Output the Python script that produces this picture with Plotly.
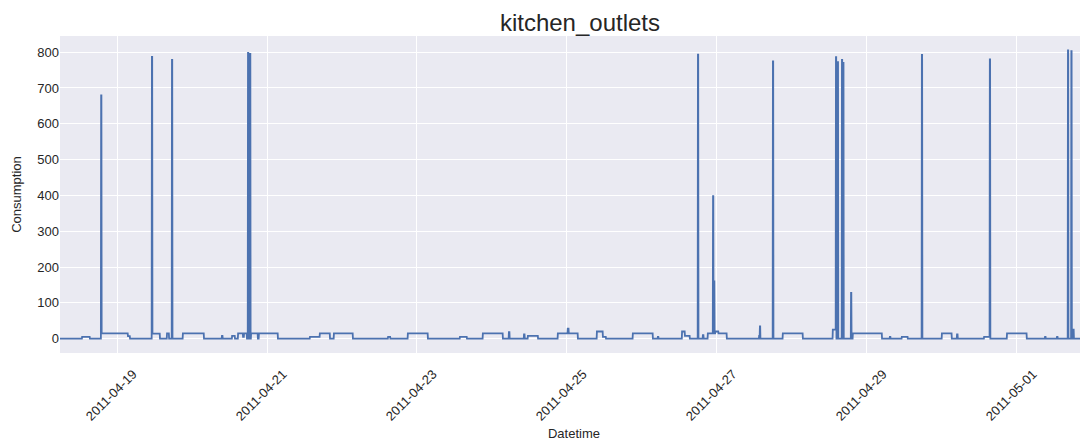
import numpy as np
import pandas as pd
import plotly.graph_objects as go

# ---- data ----
range_start = "2011-04-18 05:45"
range_end = "2011-05-01 22:45"

# plateau / low-level segments (baseline is 0 elsewhere)
seg_start = [
    "2011-04-18 12:50", "2011-04-18 18:55", "2011-04-19 03:30", "2011-04-19 11:10",
    "2011-04-19 16:00", "2011-04-19 21:05", "2011-04-20 09:35", "2011-04-20 12:50",
    "2011-04-20 14:45", "2011-04-20 16:20", "2011-04-20 16:40", "2011-04-20 18:55",
    "2011-04-20 21:25", "2011-04-21 13:45", "2011-04-21 16:55", "2011-04-21 21:25",
    "2011-04-22 14:45", "2011-04-22 21:05", "2011-04-23 13:45", "2011-04-23 21:05",
    "2011-04-24 05:25", "2011-04-24 10:15", "2011-04-24 11:30", "2011-04-24 21:05",
    "2011-04-25 00:15", "2011-04-25 00:35", "2011-04-25 09:35", "2011-04-25 11:30",
    "2011-04-25 21:05", "2011-04-26 05:05", "2011-04-26 12:50", "2011-04-26 13:45",
    "2011-04-26 19:30", "2011-04-26 21:05", "2011-04-26 23:30", "2011-04-27 00:30",
    "2011-04-27 13:30", "2011-04-27 21:05", "2011-04-28 13:05", "2011-04-28 19:30",
    "2011-04-29 07:20", "2011-04-29 11:10", "2011-04-30 00:00", "2011-04-30 04:50",
    "2011-04-30 13:30", "2011-04-30 20:50", "2011-05-01 09:00", "2011-05-01 12:50",
    "2011-05-01 17:55", "2011-05-01 20:50",
]
seg_end = [
    "2011-04-18 15:20", "2011-04-19 03:30", "2011-04-19 04:10", "2011-04-19 13:45",
    "2011-04-19 16:40", "2011-04-20 03:50", "2011-04-20 09:50", "2011-04-20 13:45",
    "2011-04-20 16:20", "2011-04-20 16:40", "2011-04-20 17:35", "2011-04-20 21:05",
    "2011-04-21 03:30", "2011-04-21 16:55", "2011-04-21 20:10", "2011-04-22 03:30",
    "2011-04-22 15:30", "2011-04-23 03:30", "2011-04-23 16:00", "2011-04-24 03:30",
    "2011-04-24 05:40", "2011-04-24 10:30", "2011-04-24 14:45", "2011-04-25 00:15",
    "2011-04-25 00:35", "2011-04-25 03:30", "2011-04-25 11:30", "2011-04-25 12:30",
    "2011-04-26 03:30", "2011-04-26 05:20", "2011-04-26 13:45", "2011-04-26 15:20",
    "2011-04-26 19:45", "2011-04-26 23:30", "2011-04-27 00:30", "2011-04-27 03:10",
    "2011-04-27 13:45", "2011-04-28 03:30", "2011-04-28 14:05", "2011-04-29 04:50",
    "2011-04-29 07:35", "2011-04-29 13:05", "2011-04-30 03:10", "2011-04-30 05:05",
    "2011-04-30 15:20", "2011-05-01 03:10", "2011-05-01 09:15", "2011-05-01 13:05",
    "2011-05-01 18:15", "2011-05-01 23:00",
]
seg_level = [
    5, 15, 7, 14,
    15, 15, 8, 8,
    15, 5, 15, 15,
    15, 5, 15, 15,
    5, 15, 5, 15,
    18, 12, 8, 15,
    28, 15, 20, 5,
    15, 5, 20, 8,
    10, 15, 20, 15,
    8, 15, 25, 15,
    5, 5, 15, 12,
    5, 15, 5, 5,
    25, 15,
]

# short high-power spikes
spike_time = [
    "2011-04-18 18:55", "2011-04-19 11:10", "2011-04-19 17:35", "2011-04-20 17:55",
    "2011-04-20 18:35", "2011-04-26 17:55", "2011-04-26 22:45", "2011-04-26 23:05",
    "2011-04-27 13:45", "2011-04-27 17:55", "2011-04-28 14:05", "2011-04-28 14:40",
    "2011-04-28 16:00", "2011-04-28 16:25", "2011-04-28 18:55", "2011-04-29 17:35",
    "2011-04-30 15:20", "2011-05-01 16:20", "2011-05-01 17:25",
]
spike_value = [
    679, 787, 778, 798,
    795, 793, 398, 160,
    34, 774, 786, 772,
    778, 770, 128, 792,
    780, 805, 803,
]

# ---- build the series ----
idx = pd.date_range(range_start, range_end, freq="5min")
vals = np.zeros(len(idx))
for s, e, v in zip(seg_start, seg_end, seg_level):
    m = (idx >= pd.Timestamp(s)) & (idx < pd.Timestamp(e))
    vals[m] = v
for t, v in zip(spike_time, spike_value):
    t0 = pd.Timestamp(t)
    m = (idx >= t0) & (idx < t0 + pd.Timedelta(minutes=10))
    vals[m] = v

fig = go.Figure()
fig.add_trace(go.Scatter(
    x=idx, y=vals, mode="lines",
    line=dict(color="#4C72B0", width=1.8),
    showlegend=False,
))

# the page places the figure 8px from the window's top-left corner
font_family = "Liberation Sans, Arial, sans-serif"
fig.update_layout(
    width=1080, height=434,
    margin=dict(l=52, r=0, t=28, b=89),
    paper_bgcolor="white",
    plot_bgcolor="#EAEAF2",
    font=dict(family=font_family, color="#262626", size=13),
    title=dict(text="kitchen_outlets", x=0.5296, xanchor="center",
               y=0.967, yanchor="middle",
               font=dict(size=24, color="#262626", family=font_family)),
)
fig.update_xaxes(
    automargin=False,
    range=[range_start, range_end],
    tick0="2011-04-19", dtick=2 * 86400000,
    tickformat="%Y-%m-%d", tickangle=-45,
    ticklabelshift=16, ticklabelstandoff=10,
    showgrid=True, gridcolor="white", gridwidth=1.2,
    zeroline=False, showline=False, ticks="",
    tickfont=dict(size=13, color="#262626"),
    title=dict(text="Datetime", font=dict(size=13, color="#262626"), standoff=6),
)
fig.update_yaxes(
    automargin=False,
    range=[-40, 845],
    tick0=0, dtick=100,
    showgrid=True, gridcolor="white", gridwidth=1.2,
    zeroline=False, showline=False, ticks="",
    tickfont=dict(size=13, color="#262626"),
    title=dict(text="Consumption", font=dict(size=13, color="#262626"), standoff=12),
)

fig.write_html("out.html")
